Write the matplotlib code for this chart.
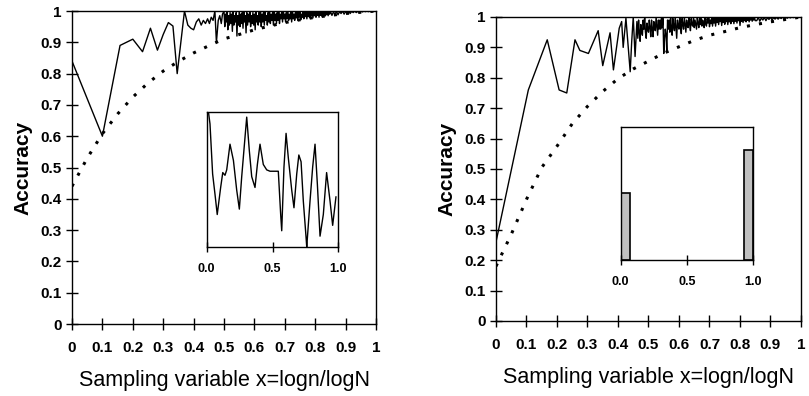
import matplotlib
matplotlib.use("Agg")
import matplotlib.pyplot as plt

plt.rcParams["font.family"] = ["Liberation Sans", "DejaVu Sans"]

# ---- shared axis text ----
tick_vals = [0, 0.1, 0.2, 0.3, 0.4, 0.5, 0.6, 0.7, 0.8, 0.9, 1]
tick_labels = ["0", "0.1", "0.2", "0.3", "0.4", "0.5", "0.6", "0.7", "0.8", "0.9", "1"]
inset_ticks = [0.0, 0.5, 1.0]
inset_labels = ["0.0", "0.5", "1.0"]
xlabel = "Sampling variable x=logn/logN"
ylabel = "Accuracy"

# ---- dotted reference curves (read at x = 0, 0.05, ..., 1) ----
ref_x = [0, 0.05, 0.1, 0.15, 0.2, 0.25, 0.3, 0.35, 0.4, 0.45, 0.5,
         0.55, 0.6, 0.65, 0.7, 0.75, 0.8, 0.85, 0.9, 0.95, 1.0]
left_ref_y = [0.44, 0.53, 0.608, 0.671, 0.725, 0.77, 0.808, 0.839, 0.866, 0.889, 0.911,
              0.925, 0.94, 0.952, 0.963, 0.972, 0.98, 0.986, 0.992, 0.996, 1.0]
right_ref_y = [0.18, 0.285, 0.40, 0.505, 0.575, 0.649, 0.706, 0.755, 0.797, 0.829, 0.855,
               0.881, 0.902, 0.923, 0.94, 0.952, 0.965, 0.975, 0.984, 0.992, 1.0]

# ---- tail of both solid curves (x = 0.855 ... 1.0), shared x positions ----
tail_x = [0.855, 0.860, 0.865, 0.870, 0.875, 0.880, 0.885, 0.890, 0.895, 0.900,
          0.905, 0.910, 0.915, 0.920, 0.925, 0.930, 0.935, 0.940, 0.945, 0.950,
          0.955, 0.960, 0.965, 0.970, 0.975, 0.980, 0.985, 0.990, 0.995, 1.000]

# ---- left panel, solid accuracy curve ----
left_sparse_x = [0, 0.1, 0.158, 0.2, 0.232, 0.258, 0.281, 0.3, 0.317, 0.332,
                 0.346, 0.358, 0.37, 0.381, 0.391, 0.4, 0.409, 0.417, 0.425, 0.432,
                 0.439, 0.446, 0.452, 0.458, 0.464, 0.47, 0.475, 0.481, 0.486, 0.491,
                 0.495]
left_sparse_y = [0.84, 0.60, 0.89, 0.91, 0.87, 0.945, 0.875, 0.925, 0.963, 0.952,
                 0.80, 0.90, 1.0, 0.955, 0.945, 0.94, 0.965, 0.975, 0.955, 0.97,
                 0.96, 0.975, 0.96, 0.98, 0.97, 1.0, 0.90, 0.97, 0.985, 0.96,
                 0.99]
left_dense_x = [
    0.5000, 0.5025, 0.5050, 0.5075, 0.5100, 0.5125, 0.5150, 0.5175, 0.5200, 0.5225,
    0.5250, 0.5275, 0.5300, 0.5325, 0.5350, 0.5375, 0.5400, 0.5425, 0.5450, 0.5475,
    0.5500, 0.5525, 0.5550, 0.5575, 0.5600, 0.5625, 0.5650, 0.5675, 0.5700, 0.5725,
    0.5750, 0.5775, 0.5800, 0.5825, 0.5850, 0.5875, 0.5900, 0.5925, 0.5950, 0.5975,
    0.6000, 0.6025, 0.6050, 0.6075, 0.6100, 0.6125, 0.6150, 0.6175, 0.6200, 0.6225,
    0.6250, 0.6275, 0.6300, 0.6325, 0.6350, 0.6375, 0.6400, 0.6425, 0.6450, 0.6475,
    0.6500, 0.6525, 0.6550, 0.6575, 0.6600, 0.6625, 0.6650, 0.6675, 0.6700, 0.6725,
    0.6750, 0.6775, 0.6800, 0.6825, 0.6850, 0.6875, 0.6900, 0.6925, 0.6950, 0.6975,
    0.7000, 0.7025, 0.7050, 0.7075, 0.7100, 0.7125, 0.7150, 0.7175, 0.7200, 0.7225,
    0.7250, 0.7275, 0.7300, 0.7325, 0.7350, 0.7375, 0.7400, 0.7425, 0.7450, 0.7475,
    0.7500, 0.7525, 0.7550, 0.7575, 0.7600, 0.7625, 0.7650, 0.7675, 0.7700, 0.7725,
    0.7750, 0.7775, 0.7800, 0.7825, 0.7850, 0.7875, 0.7900, 0.7925, 0.7950, 0.7975,
    0.8000, 0.8025, 0.8050, 0.8075, 0.8100, 0.8125, 0.8150, 0.8175, 0.8200, 0.8225,
    0.8250, 0.8275, 0.8300, 0.8325, 0.8350, 0.8375, 0.8400, 0.8425, 0.8450, 0.8475,
    0.8500]
left_dense_y = [
    1.0, 0.95, 0.99, 0.965, 1.0, 0.94, 0.985, 0.955, 0.995, 0.96,
    0.99, 0.935, 1.0, 0.955, 0.985, 0.965, 0.995, 0.92, 0.985, 0.955,
    1.0, 0.95, 0.99, 0.96, 0.995, 0.945, 1.0, 0.965, 0.985, 0.93,
    0.995, 0.955, 0.99, 0.965, 1.0, 0.95, 0.985, 0.96, 0.995, 0.955,
    0.99, 0.94, 1.0, 0.965, 0.985, 0.955, 0.995, 0.965, 1.0, 0.95,
    0.99, 0.965, 0.995, 0.955, 1.0, 0.97, 0.985, 0.955, 0.995, 0.965,
    1.0, 0.96, 0.99, 0.97, 0.995, 0.955, 1.0, 0.97, 0.99, 0.96,
    0.995, 0.97, 1.0, 0.96, 0.99, 0.975, 0.995, 0.965, 1.0, 0.975,
    0.99, 0.965, 0.995, 0.975, 1.0, 0.97, 0.99, 0.975, 0.995, 0.965,
    1.0, 0.975, 0.99, 0.97, 0.995, 0.978, 1.0, 0.97, 0.995, 0.98,
    0.998, 0.972, 0.99, 0.98, 1.0, 0.975, 0.995, 0.982, 0.998, 0.975,
    0.995, 0.982, 1.0, 0.978, 0.995, 0.985, 0.998, 0.978, 0.996, 0.985,
    1.0, 0.98, 0.995, 0.986, 0.998, 0.98, 1.0, 0.986, 0.996, 0.982,
    0.998, 0.988, 1.0, 0.984, 0.996, 0.988, 0.999, 0.985, 0.997, 0.99,
    0.999]
left_tail_y = [0.986, 0.997, 0.99, 0.999, 0.988, 0.998, 0.992, 1.0, 0.99, 0.998,
               0.993, 1.0, 0.992, 0.999, 0.995, 1.0, 0.995, 0.999, 0.996, 1.0,
               0.997, 1.0, 0.998, 1.0, 0.998, 1.0, 0.999, 1.0, 0.999, 1.0]

# ---- right panel, solid accuracy curve ----
right_sparse_x = [0, 0.106, 0.168, 0.207, 0.232, 0.259, 0.275, 0.303, 0.335, 0.35,
                  0.374, 0.385, 0.404, 0.412, 0.417, 0.426, 0.44, 0.445, 0.45, 0.456,
                  0.462]
right_sparse_y = [0.26, 0.76, 0.925, 0.76, 0.75, 0.925, 0.89, 0.88, 0.955, 0.84,
                  0.948, 0.826, 0.963, 0.985, 0.90, 0.996, 0.82, 0.92, 1.0, 0.87,
                  0.985]
right_dense_x = [
    0.4650, 0.4675, 0.4700, 0.4725, 0.4750, 0.4775, 0.4800, 0.4825, 0.4850, 0.4875,
    0.4900, 0.4925, 0.4950, 0.4975, 0.5000, 0.5025, 0.5050, 0.5075, 0.5100, 0.5125,
    0.5150, 0.5175, 0.5200, 0.5225, 0.5250, 0.5275, 0.5300, 0.5325, 0.5350, 0.5375,
    0.5400, 0.5425, 0.5450, 0.5475, 0.5500, 0.5525, 0.5550, 0.5575, 0.5600, 0.5625,
    0.5650, 0.5675, 0.5700, 0.5725, 0.5750, 0.5775, 0.5800, 0.5825, 0.5850, 0.5875,
    0.5900, 0.5925, 0.5950, 0.5975, 0.6000, 0.6025, 0.6050, 0.6075, 0.6100, 0.6125,
    0.6150, 0.6175, 0.6200, 0.6225, 0.6250, 0.6275, 0.6300, 0.6325, 0.6350, 0.6375,
    0.6400, 0.6425, 0.6450, 0.6475, 0.6500, 0.6525, 0.6550, 0.6575, 0.6600, 0.6625,
    0.6650, 0.6675, 0.6700, 0.6725, 0.6750, 0.6775, 0.6800, 0.6825, 0.6850, 0.6875,
    0.6900, 0.6925, 0.6950, 0.6975, 0.7000, 0.7025, 0.7050, 0.7075, 0.7100, 0.7125,
    0.7150, 0.7175, 0.7200, 0.7225, 0.7250, 0.7275, 0.7300, 0.7325, 0.7350, 0.7375,
    0.7400, 0.7425, 0.7450, 0.7475, 0.7500, 0.7525, 0.7550, 0.7575, 0.7600, 0.7625,
    0.7650, 0.7675, 0.7700, 0.7725, 0.7750, 0.7775, 0.7800, 0.7825, 0.7850, 0.7875,
    0.7900, 0.7925, 0.7950, 0.7975, 0.8000, 0.8025, 0.8050, 0.8075, 0.8100, 0.8125,
    0.8150, 0.8175, 0.8200, 0.8225, 0.8250, 0.8275, 0.8300, 0.8325, 0.8350, 0.8375,
    0.8400, 0.8425, 0.8450, 0.8475, 0.8500]
right_dense_y = [
    0.93, 0.99, 0.95, 0.92, 0.975, 0.955, 0.94, 0.99, 0.96, 1.0,
    0.95, 0.93, 0.98, 0.96, 0.95, 0.99, 0.965, 0.935, 0.99, 0.96,
    0.935, 0.985, 0.96, 0.955, 1.0, 0.97, 0.94, 0.99, 0.96, 0.99,
    0.96, 1.0, 0.965, 0.995, 0.88, 0.93, 0.96, 0.94, 0.89, 0.99,
    0.96, 0.99, 0.95, 1.0, 0.965, 0.94, 0.995, 0.97, 0.955, 1.0,
    0.965, 0.93, 0.99, 0.97, 0.96, 1.0, 0.97, 0.945, 0.995, 0.975,
    0.96, 1.0, 0.975, 0.95, 0.99, 0.97, 0.965, 1.0, 0.975, 0.955,
    0.995, 0.975, 0.97, 1.0, 0.965, 0.99, 0.975, 0.96, 1.0, 0.98,
    0.965, 0.995, 0.975, 1.0, 0.97, 0.99, 0.98, 0.965, 1.0, 0.978,
    0.97, 0.995, 0.98, 1.0, 0.968, 0.99, 0.978, 0.998, 0.97, 0.995,
    0.98, 1.0, 0.97, 0.995, 0.982, 0.998, 0.975, 0.995, 0.985, 1.0,
    0.972, 0.996, 0.982, 1.0, 0.976, 0.995, 0.985, 0.998, 0.975, 0.996,
    0.984, 1.0, 0.978, 0.996, 0.986, 0.999, 0.978, 0.997, 0.986, 1.0,
    0.98, 0.997, 0.988, 1.0, 0.972, 0.996, 0.986, 0.999, 0.982, 0.997,
    0.988, 1.0, 0.984, 0.997, 0.989, 0.999, 0.984, 0.998, 0.99, 1.0,
    0.986, 0.998, 0.99, 0.999, 0.988]
right_tail_y = [0.988, 0.999, 0.986, 0.997, 0.99, 0.999, 0.988, 0.998, 0.992, 1.0,
                0.99, 0.998, 0.993, 0.999, 0.993, 0.999, 0.995, 1.0, 0.995, 0.999,
                0.996, 1.0, 0.997, 1.0, 0.998, 1.0, 0.999, 1.0, 0.999, 1.0]

# ---- left inset: fluctuating trace ----
inset_line_x = [0.0, 0.013, 0.025, 0.045, 0.063, 0.08, 0.106, 0.122, 0.139, 0.152,
                0.177, 0.203, 0.228, 0.248, 0.266, 0.291, 0.304, 0.324, 0.342, 0.367,
                0.385, 0.405, 0.43, 0.456, 0.481, 0.544, 0.562, 0.57, 0.587, 0.603,
                0.62, 0.646, 0.663, 0.684, 0.7, 0.717, 0.734, 0.755, 0.76, 0.785,
                0.805, 0.823, 0.841, 0.861, 0.886, 0.911, 0.937, 0.957, 0.982]
inset_line_y = [1.0, 1.0, 0.91, 0.54, 0.39, 0.24, 0.44, 0.55, 0.53, 0.57,
                0.76, 0.64, 0.42, 0.28, 0.52, 0.81, 0.96, 0.71, 0.52, 0.44,
                0.61, 0.76, 0.61, 0.57, 0.56, 0.56, 0.24, 0.12, 0.59, 0.84,
                0.66, 0.42, 0.29, 0.54, 0.68, 0.63, 0.34, 0.07, 0.0, 0.34,
                0.59, 0.76, 0.46, 0.08, 0.24, 0.55, 0.34, 0.16, 0.37]

# ---- right inset: two bars ----
inset_bar_left = [0.0, 0.93]
inset_bar_width = [0.07, 0.07]
inset_bar_height = [0.507, 0.83]


def style_main(ax):
    ax.set_xlim(0, 1)
    ax.set_ylim(0, 1)
    ax.set_xticks(tick_vals)
    ax.set_xticklabels(tick_labels)
    ax.set_yticks(tick_vals)
    ax.set_yticklabels(tick_labels)
    ax.tick_params(direction="inout", length=8, width=1, labelsize=11)
    ax.tick_params(axis="x", pad=8.5)
    ax.tick_params(axis="y", pad=3.5)
    for lab in ax.get_xticklabels() + ax.get_yticklabels():
        lab.set_fontweight("bold")
    for sp in ax.spines.values():
        sp.set_linewidth(1.0)
    ax.set_xlabel(xlabel, fontsize=15.5, labelpad=10.5)
    ax.set_ylabel(ylabel, fontsize=15, fontweight="bold", labelpad=6)


def style_inset(ax):
    ax.set_xlim(0, 1)
    ax.set_ylim(0, 1)
    ax.set_yticks([])
    ax.set_xticks(inset_ticks)
    ax.set_xticklabels(inset_labels)
    ax.tick_params(direction="inout", length=7, width=1, labelsize=9, pad=8)
    for lab in ax.get_xticklabels():
        lab.set_fontweight("bold")
    for sp in ax.spines.values():
        sp.set_linewidth(1.0)


def main():
    fig = plt.figure(figsize=(8.09, 3.96), dpi=100)

    left_x = left_sparse_x + left_dense_x + tail_x
    left_y = left_sparse_y + left_dense_y + left_tail_y
    right_x = right_sparse_x + right_dense_x + tail_x
    right_y = right_sparse_y + right_dense_y + right_tail_y

    ax1 = fig.add_axes([0.089, 0.1818, 0.3758, 0.7904])
    ax1.plot(ref_x, left_ref_y, color="black", lw=2.2, linestyle=(0, (1, 3.0)))
    ax1.plot(left_x, left_y, color="black", lw=1.0)
    style_main(ax1)

    ax2 = fig.add_axes([0.6131, 0.1894, 0.377, 0.7677])
    ax2.plot(ref_x, right_ref_y, color="black", lw=2.2, linestyle=(0, (1, 3.0)))
    ax2.plot(right_x, right_y, color="black", lw=1.0)
    style_main(ax2)

    in1 = fig.add_axes([0.2555, 0.3763, 0.1627, 0.3416])
    in1.plot(inset_line_x, inset_line_y, color="black", lw=1.0)
    style_inset(in1)

    in2 = fig.add_axes([0.7672, 0.3434, 0.1639, 0.3351])
    in2.bar(inset_bar_left, inset_bar_height, width=inset_bar_width, align="edge",
            color="#c0c0c0", edgecolor="black", linewidth=1.2)
    style_inset(in2)

    fig.savefig("out.png", dpi=100)
    plt.close(fig)


if __name__ == "__main__":
    main()
